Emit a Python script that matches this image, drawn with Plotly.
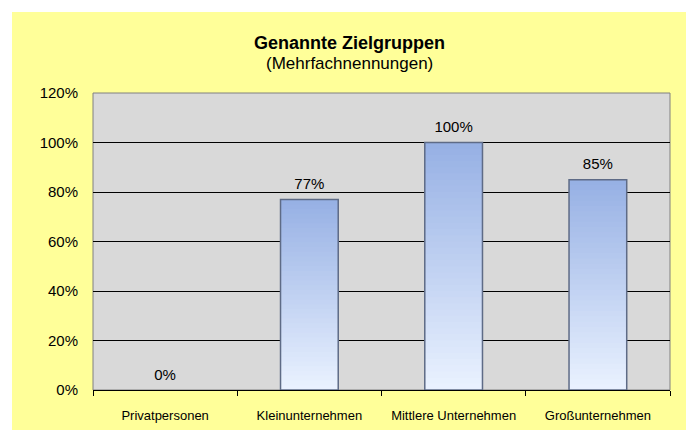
import plotly.graph_objects as go

categories = ["Privatpersonen", "Kleinunternehmen", "Mittlere Unternehmen", "Großunternehmen"]
values = [0, 77, 100, 85]          # percent
value_labels = ["0%", "77%", "100%", "85%"]
y_ticks = [0, 0.2, 0.4, 0.6, 0.8, 1.0, 1.2]
y_tick_labels = ["0%", "20%", "40%", "60%", "80%", "100%", "120%"]

FONT = "Arial, Liberation Sans, sans-serif"
OFF = 8  # default page body margin
W, H = 694 - OFF, 430 - OFF
L, R, T, B = 93 - OFF, 24, 93 - OFF, 40
PW, PH = W - L - R, H - T - B

def px_x(p):
    return (p - OFF - L) / PW

def px_y(p):
    return (H - B - (p - OFF)) / PH

top_rgb = (150, 176, 228)
bot_rgb = (234, 242, 255)
N = 40

fig = go.Figure()
for k in range(N):
    f0, f1 = k / N, (k + 1) / N
    fm = (f0 + f1) / 2
    ext = 1.8 if k < N - 1 else 1.0
    c = tuple(round(bot_rgb[i] + (top_rgb[i] - bot_rgb[i]) * fm) for i in range(3))
    fig.add_bar(
        x=categories,
        y=[v / 100 * (f1 - f0) * ext for v in values],
        base=[v / 100 * f0 for v in values],
        width=0.4,
        marker=dict(color="rgb(%d,%d,%d)" % c, line=dict(width=0)),
        hoverinfo="skip",
        showlegend=False,
    )

# outline / bevel
fig.add_bar(
    x=categories,
    y=[v / 100 for v in values],
    width=0.4,
    marker=dict(color="rgba(0,0,0,0)",
                line=dict(color="#5E6B86", width=[0 if v == 0 else 1.5 for v in values])),
    hoverinfo="skip",
    showlegend=False,
)

# data labels
fig.add_scatter(
    x=categories,
    y=[v / 100 for v in values],
    mode="markers+text",
    marker=dict(size=9, opacity=0),
    text=value_labels,
    textposition="top center",
    textfont=dict(family=FONT, size=15, color="#000000"),
    hoverinfo="skip",
    showlegend=False,
    cliponaxis=False,
)

shapes = [
    # shadow
    dict(type="rect", xref="paper", yref="paper",
         x0=px_x(16), x1=px_x(693), y0=px_y(440), y1=px_y(16),
         fillcolor="#B4B4B4", line=dict(width=0), layer="below"),
    # yellow chart area
    dict(type="rect", xref="paper", yref="paper",
         x0=px_x(12), x1=px_x(688), y0=px_y(440), y1=px_y(12),
         fillcolor="#FFFF99", line=dict(width=0), layer="below"),
    # gray plot area
    dict(type="rect", xref="paper", yref="paper",
         x0=0, x1=1, y0=0, y1=1,
         fillcolor="#D9D9D9", line=dict(color="#808080", width=1), layer="below"),
]

annotations = [
    dict(text="<b>Genannte Zielgruppen</b>", xref="paper", yref="paper",
         x=px_x(349), y=px_y(43), xanchor="center", yanchor="middle",
         showarrow=False, font=dict(family=FONT, size=18, color="#000000")),
    dict(text="(Mehrfachnennungen)", xref="paper", yref="paper",
         x=px_x(349), y=px_y(63), xanchor="center", yanchor="middle",
         showarrow=False, font=dict(family=FONT, size=17, color="#000000")),
]

fig.update_layout(
    width=W, height=H,
    margin=dict(l=L, r=R, t=T, b=B, pad=0, autoexpand=False),
    paper_bgcolor="#FFFFFF",
    plot_bgcolor="rgba(0,0,0,0)",
    barmode="overlay",
    bargap=0.6,
    shapes=shapes,
    annotations=annotations,
    font=dict(family=FONT, color="#000000"),
    hovermode=False,
)

fig.update_xaxes(
    type="category",
    categoryorder="array", categoryarray=categories,
    showline=True, linecolor="#000000", linewidth=1,
    ticks="outside", tickson="boundaries", ticklen=5, tickcolor="#000000",
    tickfont=dict(family=FONT, size=13, color="#000000"),
    ticklabelstandoff=13,
    showgrid=False, zeroline=False,
    automargin=False,
    fixedrange=True,
)
fig.update_yaxes(
    range=[0, 1.2],
    tickvals=y_ticks, ticktext=y_tick_labels,
    showgrid=True, gridcolor="#000000", gridwidth=1,
    zeroline=False, showline=False,
    ticks="", ticklabelstandoff=14,
    tickfont=dict(family=FONT, size=15, color="#000000"),
    automargin=False,
    fixedrange=True,
)

fig.write_html("out.html", config={"displayModeBar": False})
